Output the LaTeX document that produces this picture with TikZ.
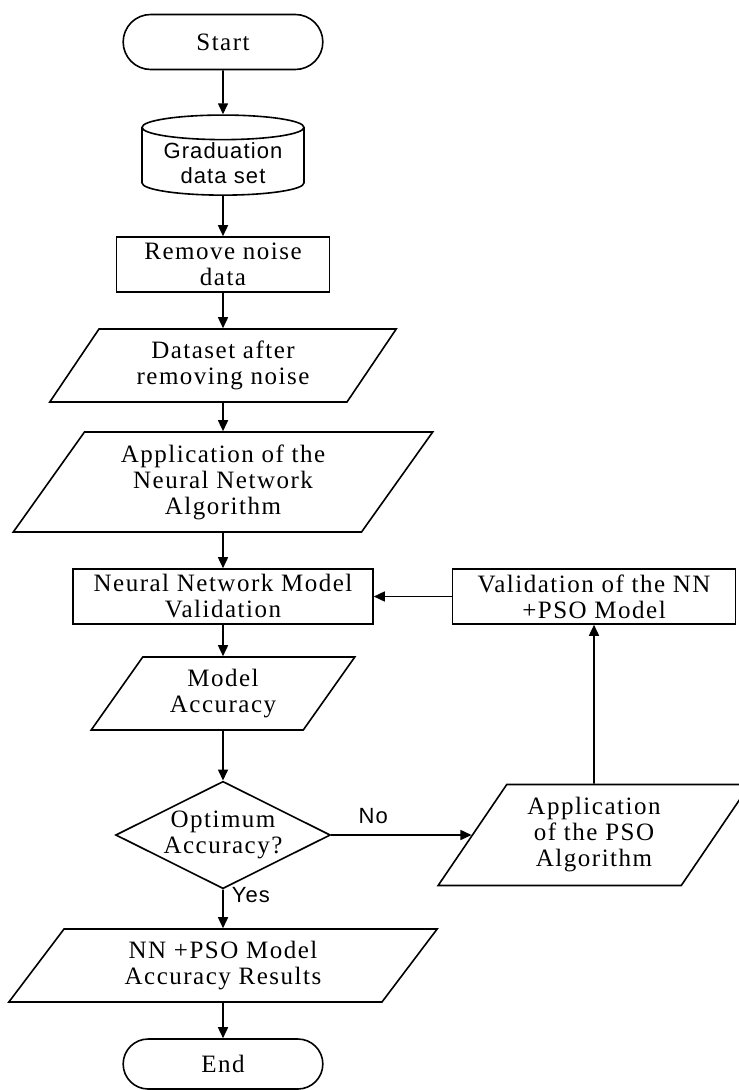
\documentclass[tikz,border=0pt]{standalone}
\usepackage{fontspec}
\setmainfont{Liberation Serif}[LetterSpace=6]
\newfontfamily\labfont{Liberation Sans}[LetterSpace=5]
\usetikzlibrary{shapes.geometric,shapes.misc,arrows.meta}

\tikzset{
  flowchart/.style={x=0.5pt,y=-0.5pt,line width=0.8pt,
    font=\fontsize{12.5}{13}\selectfont,
    >={Triangle[length=5.5pt,width=5pt]}},
  termbox/.style={draw,rounded rectangle,minimum width=106.5pt,align=center},
  procbox/.style={draw,rectangle,minimum height=27.5pt,align=center,inner sep=0pt},
  iobox/.style={draw,trapezium,trapezium left angle=55,trapezium right angle=125,
    trapezium stretches=true,align=center,inner sep=0pt},
  dbbox/.style={draw,cylinder,shape border rotate=90,aspect=0.2,align=center,
    inner sep=1pt,font=\labfont\fontsize{11}{12.5}\selectfont},
  decbox/.style={draw,diamond,aspect=2,minimum width=106.5pt,minimum height=53pt,
    align=center,inner sep=0pt},
  lab/.style={font=\labfont\fontsize{11}{12.5}\selectfont}
}

\begin{document}
\begin{tikzpicture}[flowchart]
    \useasboundingbox (0,0) rectangle (738,1090);
    % main column
    \node[termbox,minimum height=27.5pt] (start) at (223,42) {Start};
    \node[dbbox,minimum width=81pt,minimum height=38pt] (data) at (223,163) {Graduation\\data set};
    \node[procbox,minimum width=106.5pt] (noise) at (223,264.5) {Remove noise\\data};
    \node[iobox,minimum width=173.5pt,minimum height=36.5pt] (clean) at (223,365.5)
      {Dataset after\\removing noise};
    \node[iobox,minimum width=210pt,minimum height=50pt] (nnalg) at (223,482)
      {Application of the\\Neural Network\\Algorithm};
    \node[procbox,minimum width=150pt] (nnval) at (223,596.5)
      {Neural Network Model\\Validation};
    \node[iobox,minimum width=132.5pt,minimum height=36.5pt] (acc) at (223,693.5)
      {Model\\Accuracy};
    \node[decbox] (opt) at (223,835) {Optimum\\Accuracy?};
    \node[iobox,minimum width=214.5pt,minimum height=36.5pt] (res) at (223,965.5)
      {NN +PSO Model\\Accuracy Results};
    \node[termbox,minimum height=25pt] (stop) at (223,1064) {End};
    % loop back
    \node[iobox,minimum width=156pt,minimum height=50.5pt] (pso) at (594,835)
      {Application\\of the PSO\\Algorithm};
    \node[procbox,minimum width=141.5pt] (psoval) at (594,596.5)
      {Validation of the NN\\+PSO Model};

    \draw[->] (start) -- (data);
    \draw[->] (data) -- (noise);
    \draw[->] (noise) -- (clean);
    \draw[->] (clean) -- (nnalg);
    \draw[->] (nnalg) -- (nnval);
    \draw[->] (nnval) -- (acc);
    \draw[->] (acc) -- (opt);
    \draw[->] (opt) -- node[lab,pos=0.3,above=2pt] {No} (pso);
    \draw[->] (opt) -- node[lab,pos=0.15,anchor=west,inner sep=4pt] {Yes} (res);
    \draw[->] (res) -- (stop);
    \draw[->] (pso) -- (psoval);
    \draw[->] (psoval) -- (nnval);
\end{tikzpicture}
\end{document}
